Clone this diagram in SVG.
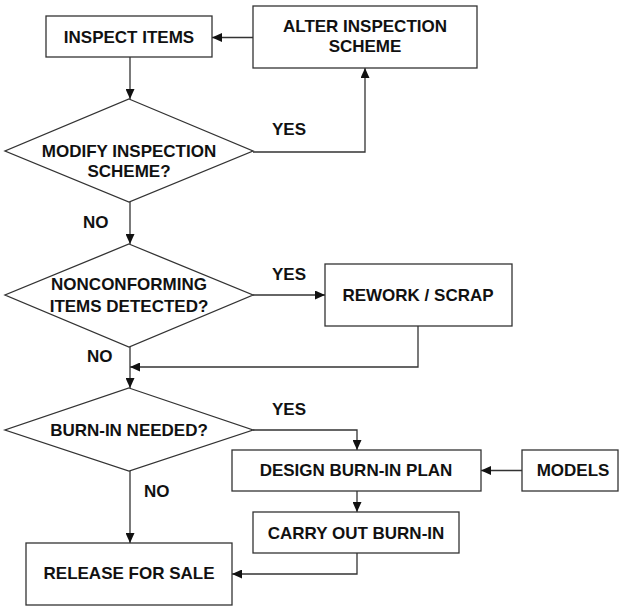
<svg xmlns="http://www.w3.org/2000/svg" width="619" height="606" viewBox="0 0 619 606">
  <style>
    .box { fill: #ffffff; stroke: #333333; stroke-width: 1.3; }
    .lbl { font-family: "Liberation Sans", Arial, sans-serif; font-weight: bold; font-size: 17px; fill: #111111; text-anchor: middle; }
    .tag { font-family: "Liberation Sans", Arial, sans-serif; font-weight: bold; font-size: 17px; fill: #111111; }
    .wire { fill: none; stroke: #333333; stroke-width: 1.3; }
  </style>
  <defs>
    <marker id="arrow" markerUnits="userSpaceOnUse" markerWidth="11" markerHeight="9" refX="10" refY="4.5" orient="auto">
      <path d="M0,0 L10,4.5 L0,9 Z" fill="#111111"/>
    </marker>
  </defs>
  <rect width="619" height="606" fill="#ffffff"/>

  <g id="connectors">
    <path class="wire" d="M253,37.5 L212,37.5" marker-end="url(#arrow)"/>
    <path class="wire" d="M130,57 L130,99" marker-end="url(#arrow)"/>
    <path class="wire" d="M253,152 L365,152 L365,68" marker-end="url(#arrow)"/>
    <path class="wire" d="M130,202 L130,244" marker-end="url(#arrow)"/>
    <path class="wire" d="M253,295 L325,295" marker-end="url(#arrow)"/>
    <path class="wire" d="M418,326 L418,367 L130,367" marker-end="url(#arrow)"/>
    <path class="wire" d="M130,347 L130,388" marker-end="url(#arrow)"/>
    <path class="wire" d="M253,430 L357,430 L357,450" marker-end="url(#arrow)"/>
    <path class="wire" d="M522,470.5 L481,470.5" marker-end="url(#arrow)"/>
    <path class="wire" d="M357,491 L357,512" marker-end="url(#arrow)"/>
    <path class="wire" d="M357,553 L357,574 L232,574" marker-end="url(#arrow)"/>
    <path class="wire" d="M130,471 L130,543" marker-end="url(#arrow)"/>
    <text class="tag" x="272" y="135">YES</text>
    <text class="tag" x="83" y="228">NO</text>
    <text class="tag" x="272" y="280">YES</text>
    <text class="tag" x="87" y="362">NO</text>
    <text class="tag" x="272" y="415">YES</text>
    <text class="tag" x="144" y="497">NO</text>
  </g>

  <g id="inspect-items">
    <rect class="box" x="46" y="16" width="166" height="41"/>
    <text class="lbl" x="129" y="43">INSPECT ITEMS</text>
  </g>

  <g id="alter-scheme">
    <rect class="box" x="253" y="6" width="224" height="62"/>
    <text class="lbl" x="365" y="32">ALTER INSPECTION</text>
    <text class="lbl" x="365" y="52">SCHEME</text>
  </g>

  <g id="modify-scheme">
    <polygon class="box" points="129,99 253,151 129,202 5,151"/>
    <text class="lbl" x="129" y="157">MODIFY INSPECTION</text>
    <text class="lbl" x="129" y="177">SCHEME?</text>
  </g>

  <g id="nonconforming">
    <polygon class="box" points="129,244 253,295 129,347 5,295"/>
    <text class="lbl" x="129" y="290">NONCONFORMING</text>
    <text class="lbl" x="129" y="312">ITEMS DETECTED?</text>
  </g>

  <g id="rework-scrap">
    <rect class="box" x="325" y="264" width="187" height="62"/>
    <text class="lbl" x="418" y="301">REWORK / SCRAP</text>
  </g>

  <g id="burn-in-needed">
    <polygon class="box" points="129,388 253,430 129,471 5,430"/>
    <text class="lbl" x="129" y="436">BURN-IN NEEDED?</text>
  </g>

  <g id="design-plan">
    <rect class="box" x="232" y="450" width="249" height="41"/>
    <text class="lbl" x="356" y="476">DESIGN BURN-IN PLAN</text>
  </g>

  <g id="models">
    <rect class="box" x="522" y="450" width="96" height="41"/>
    <text class="lbl" x="573" y="476">MODELS</text>
  </g>

  <g id="carry-out">
    <rect class="box" x="253" y="512" width="206" height="41"/>
    <text class="lbl" x="356" y="539">CARRY OUT BURN-IN</text>
  </g>

  <g id="release">
    <rect class="box" x="26" y="543" width="206" height="62"/>
    <text class="lbl" x="129" y="579">RELEASE FOR SALE</text>
  </g>
</svg>
